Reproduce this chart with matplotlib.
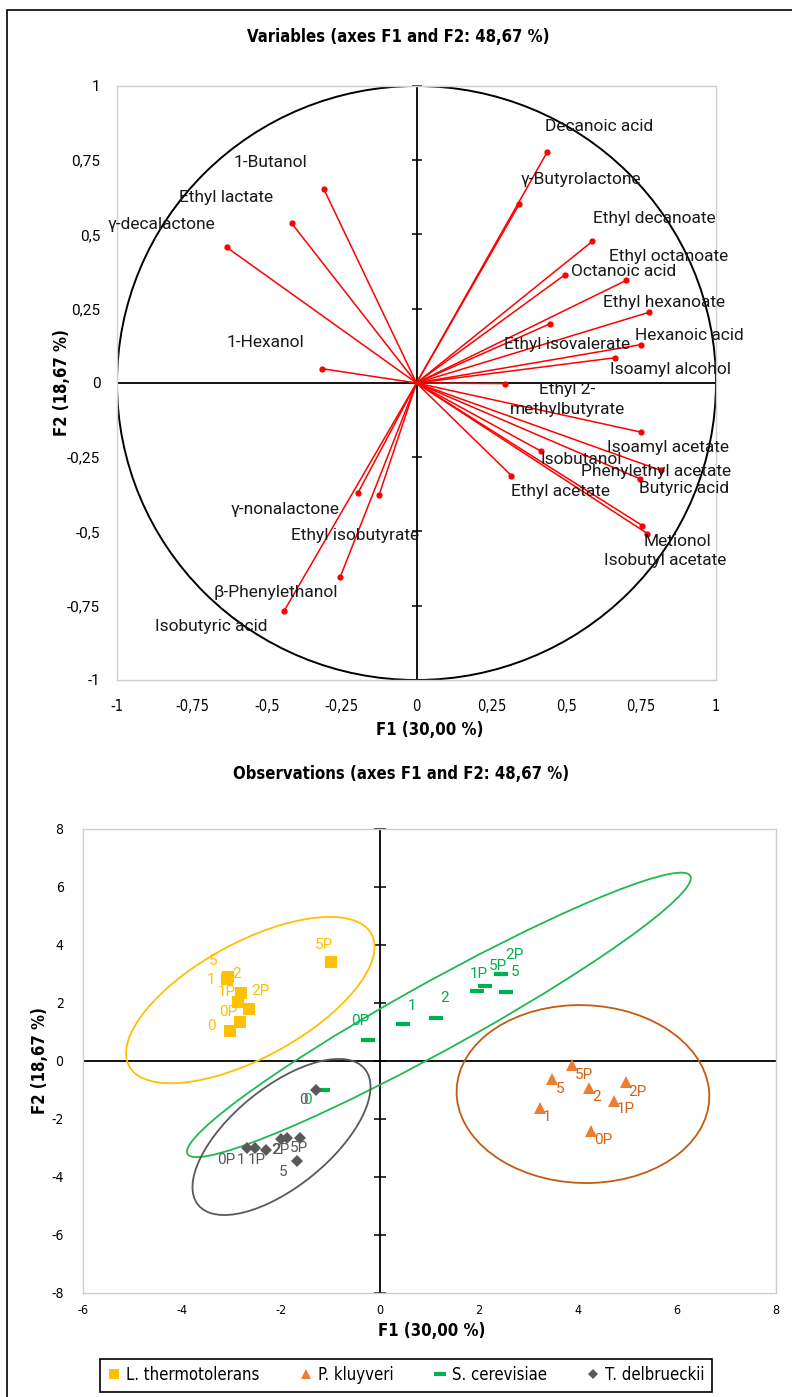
import numpy as np
import matplotlib
matplotlib.use('Agg')
import matplotlib.pyplot as plt
from matplotlib.patches import Ellipse, Rectangle
from matplotlib.lines import Line2D
from matplotlib.ticker import FuncFormatter, MultipleLocator

W, H = 792, 1397
NARROW = ['Liberation Sans Narrow', 'DejaVu Sans']
LABEL_FONT = ['Roboto', 'DejaVu Sans']

# ── variables: loadings on F1 / F2 ────────────────────────────────────────────
var_names = [
    'Decanoic acid', 'γ-Butyrolactone', 'Ethyl decanoate', 'Octanoic acid',
    'Ethyl octanoate', 'Ethyl hexanoate', 'Ethyl isovalerate', 'Hexanoic acid',
    'Isoamyl alcohol', 'Ethyl 2-\nmethylbutyrate', 'Isoamyl acetate', 'Isobutanol',
    'Phenylethyl acetate', 'Butyric acid', 'Ethyl acetate', 'Metionol',
    'Isobutyl acetate', '1-Butanol', 'Ethyl lactate', 'γ-decalactone',
    '1-Hexanol', 'γ-nonalactone', 'Ethyl isobutyrate', 'β-Phenylethanol',
    'Isobutyric acid',
]
var_f1 = [0.436, 0.343, 0.587, 0.495, 0.701, 0.776, 0.447, 0.748, 0.663, 0.297,
          0.748, 0.415, 0.815, 0.747, 0.317, 0.754, 0.771, -0.309, -0.417, -0.634,
          -0.314, -0.196, -0.125, -0.255, -0.443]
var_f2 = [0.777, 0.602, 0.477, 0.364, 0.346, 0.238, 0.200, 0.129, 0.085, -0.002,
          -0.165, -0.229, -0.294, -0.323, -0.312, -0.480, -0.507, 0.652, 0.538, 0.457,
          0.048, -0.371, -0.377, -0.654, -0.769]

# where each variable name is written
var_lab_x = [0.611, 0.549, 0.795, 0.693, 0.843, 0.826, 0.503, 0.911, 0.849, 0.503,
             0.841, 0.550, 0.799, 0.895, 0.482, 0.871, 0.832, -0.489, -0.636, -0.850,
             -0.506, -0.438, -0.206, -0.470, -0.685]
var_lab_y = [0.863, 0.686, 0.555, 0.377, 0.425, 0.270, 0.128, 0.159, 0.046, -0.055,
             -0.218, -0.257, -0.299, -0.355, -0.364, -0.532, -0.596, 0.741, 0.623, 0.535,
             0.135, -0.425, -0.515, -0.706, -0.821]

# ── observations: scores on F1 / F2 per yeast ────────────────────────────────
groups = ['L. thermotolerans', 'P. kluyveri', 'S. cerevisiae', 'T. delbrueckii']

lt_names = ['0', '0P', '1', '1P', '2', '2P', '5', '5P']
lt_f1 = [-3.04, -2.82, -3.10, -2.86, -2.81, -2.65, -3.08, -0.98]
lt_f2 = [1.02, 1.34, 2.84, 2.05, 2.34, 1.79, 2.88, 3.41]

pk_names = ['1', '1P', '2', '2P', '5', '5P', '0P']
pk_f1 = [3.23, 4.73, 4.23, 4.96, 3.47, 3.88, 4.26]
pk_f2 = [-1.61, -1.37, -0.94, -0.74, -0.62, -0.14, -2.41]

sc_names = ['0', '0P', '1', '2', '1P', '5P', '2P', '5']
sc_f1 = [-1.16, -0.24, 0.47, 1.14, 1.95, 2.12, 2.44, 2.55]
sc_f2 = [-1.01, 0.71, 1.28, 1.48, 2.43, 2.60, 2.99, 2.37]

td_names = ['0', '0P', '1', '1P', '2', '2P', '5P', '5']
td_f1 = [-1.29, -2.69, -2.52, -2.30, -2.00, -1.87, -1.61, -1.68]
td_f2 = [-0.99, -2.99, -2.99, -3.07, -2.70, -2.64, -2.64, -3.45]

# label offsets in pixels (x right, y up)
lt_off = [(-18, 5), (-12, 10), (-16, -1), (-12, 10), (-4, 19), (12, 18), (-14, 16), (-8, 17)]
pk_off = [(7, -9), (12, -8), (7, -9), (12, -10), (8, -10), (12, -10), (12, -9)]
sc_off = [(-15, -10), (-8, 19), (9, 18), (8, 20), (2, 17), (13, 20), (14, 19), (9, 20)]
td_off = [(-13, -10), (-21, -12), (-14, -12), (-9, -10), (-4.5, -10.5), (-7, -12), (-1, -10),
          (-14, -11)]

# confidence ellipses (centre, full axes, rotation in degrees)
ell_cx = [-2.62, 4.10, 1.19, -1.99]
ell_cy = [2.10, -1.14, 1.59, -2.62]
ell_w = [6.92, 5.10, 14.0, 5.98]
ell_h = [3.20, 6.14, 1.96, 2.48]
ell_ang = [50.9, 3.9, 43.9, 61.4]

mk_col = ['#FFC000', '#ED7D31', '#00B050', '#595959']
lab_col = ['#FFC000', '#D0621B', '#00B050', '#595959']
ell_col = ['#FFC000', '#C55A11', '#1DB954', '#595959']
markers = ['s', '^', '_', 'D']
msizes = [8, 8, 10, 6]


def comma(v, _):
    return f'{v:g}'.replace('.', ',')


def px_axes(fig, left, top, right, bottom):
    return fig.add_axes([left / W, 1 - bottom / H, (right - left) / W, (bottom - top) / H])


def style_box(ax):
    for s in ax.spines.values():
        s.set_color('#d0d0d0')
        s.set_linewidth(1.0)
    ax.tick_params(length=0)
    ax.xaxis.set_major_formatter(FuncFormatter(comma))
    ax.yaxis.set_major_formatter(FuncFormatter(comma))


def narrow(t, size, bold=False):
    t.set_family(NARROW)
    t.set_stretch('condensed')
    t.set_size(size)
    if bold:
        t.set_weight('bold')


fig = plt.figure(figsize=(W / 100, H / 100), dpi=100)
fig.patch.set_facecolor('white')
fig.patches.append(Rectangle((7 / W, -0.01), 1.0, 1.01 - 10 / H, transform=fig.transFigure,
                             fill=False, edgecolor='black', linewidth=1.2))

# ── correlation circle ───────────────────────────────────────────────────────
ax1 = px_axes(fig, 117, 86, 716, 680)
style_box(ax1)
ax1.set_xlim(-1, 1)
ax1.set_ylim(-1, 1)
ax1.xaxis.set_major_locator(MultipleLocator(0.25))
ax1.yaxis.set_major_locator(MultipleLocator(0.25))
ax1.tick_params(axis='x', pad=14)
ax1.tick_params(axis='y', pad=12)
for t in ax1.get_xticklabels():
    narrow(t, 10.5)
for t in ax1.get_yticklabels():
    t.set_family(LABEL_FONT)
    t.set_size(11)

ax1.axhline(0, color='black', lw=1.3, zorder=1)
ax1.axvline(0, color='black', lw=1.3, zorder=1)
yt = np.arange(-1, 1.01, 0.25)
ax1.plot(np.zeros(len(yt)), yt, ls='none', marker='_', ms=7, mew=1.1, color='black',
         zorder=1, clip_on=False)
ax1.add_patch(Ellipse((0, 0), 2, 2, fill=False, edgecolor='black', lw=1.4, zorder=2))

for x, y in zip(var_f1, var_f2):
    ax1.plot([0, x], [0, y], color='#FF0000', lw=1.1, zorder=3)
ax1.plot(var_f1, var_f2, ls='none', marker='o', ms=3.5, color='#FF0000', zorder=4)
for name, lx, ly in zip(var_names, var_lab_x, var_lab_y):
    ax1.text(lx, ly, name, ha='center', va='center', fontsize=12.5, color='#1a1a1a',
             family=LABEL_FONT, linespacing=1.45, zorder=5)

t = fig.text(398 / W, 1 - 37 / H, 'Variables (axes F1 and F2: 48,67 %)', ha='center', va='center')
narrow(t, 12, bold=True)
t = fig.text(430 / W, 1 - 730 / H, 'F1 (30,00 %)', ha='center', va='center')
narrow(t, 12, bold=True)
t = fig.text(62 / W, 1 - 383 / H, 'F2 (18,67 %)', ha='center', va='center', rotation=90)
narrow(t, 12, bold=True)

# ── observations ─────────────────────────────────────────────────────────────
ax2 = px_axes(fig, 83, 829, 776, 1293)
style_box(ax2)
ax2.set_xlim(-6, 8)
ax2.set_ylim(-8, 8)
ax2.xaxis.set_major_locator(MultipleLocator(2))
ax2.yaxis.set_major_locator(MultipleLocator(2))
ax2.tick_params(axis='x', pad=8)
ax2.tick_params(axis='y', pad=14)
for t in ax2.get_xticklabels():
    narrow(t, 9)
for t in ax2.get_yticklabels():
    narrow(t, 10)

ax2.axhline(0, color='black', lw=1.3, zorder=1)
ax2.axvline(0, color='black', lw=1.3, zorder=1)
yt2 = np.arange(-8, 8.1, 2)
ax2.plot(np.zeros(len(yt2)), yt2, ls='none', marker='_', ms=8, mew=1.1, color='black',
         zorder=1, clip_on=False)

for i in range(4):
    ax2.add_patch(Ellipse((ell_cx[i], ell_cy[i]), ell_w[i], ell_h[i], angle=ell_ang[i],
                          fill=False, edgecolor=ell_col[i], lw=1.3, zorder=2))

obs = [(lt_names, lt_f1, lt_f2, lt_off), (pk_names, pk_f1, pk_f2, pk_off),
       (sc_names, sc_f1, sc_f2, sc_off), (td_names, td_f1, td_f2, td_off)]
for i, (names, f1, f2, offs) in enumerate(obs):
    ax2.plot(f1, f2, ls='none', marker=markers[i], ms=msizes[i], color=mk_col[i],
             mew=3 if markers[i] == '_' else 0, zorder=4)
    for n, x, y, (dx, dy) in zip(names, f1, f2, offs):
        ax2.annotate(n, (x, y), xytext=(dx, dy), textcoords='offset pixels',
                     ha='center', va='center', fontsize=11, color=lab_col[i],
                     family=LABEL_FONT, zorder=5)

t = fig.text(401 / W, 1 - 774 / H, 'Observations (axes F1 and F2: 48,67 %)', ha='center', va='center')
narrow(t, 12, bold=True)
t = fig.text(432 / W, 1 - 1331 / H, 'F1 (30,00 %)', ha='center', va='center')
narrow(t, 12, bold=True)
t = fig.text(40 / W, 1 - 1061 / H, 'F2 (18,67 %)', ha='center', va='center', rotation=90)
narrow(t, 12, bold=True)

handles = [Line2D([], [], ls='none', marker=markers[i], ms=msizes[i] - 1, color=mk_col[i],
                  mew=3 if markers[i] == '_' else 0, label=groups[i]) for i in range(4)]
leg = fig.legend(handles=handles, loc='center', ncol=4, bbox_to_anchor=(406 / W, 1 - 1375 / H),
                 frameon=True, fancybox=False, edgecolor='black', framealpha=1,
                 prop={'family': NARROW, 'size': 12, 'stretch': 'condensed'},
                 handlelength=0.8, handletextpad=0.3, columnspacing=2.4, borderpad=0.45)
leg.get_frame().set_linewidth(1.2)

fig.savefig('out.png', dpi=100)
